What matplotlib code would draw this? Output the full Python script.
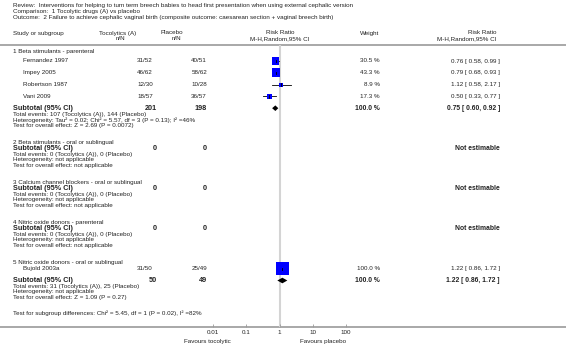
import matplotlib
matplotlib.use('Agg')
import matplotlib.pyplot as plt

plt.rcParams['font.family'] = ['Liberation Sans', 'DejaVu Sans']

#-------------------------------------
# Datos
titulo = ['Review:  Interventions for helping to turn term breech babies to head first presentation when using external cephalic version',
          'Comparison:  1 Tocolytic drugs (A) vs placebo',
          'Outcome:  2 Failure to achieve cephalic vaginal birth (composite outcome: caesarean section + vaginal breech birth)']

secciones = ['1 Beta stimulants - parenteral',
             '2 Beta stimulants - oral or sublingual',
             '3 Calcium channel blockers - oral or sublingual',
             '4 Nitric oxide donors - parenteral',
             '5 Nitric oxide donors - oral or sublingual']

estudios = ['Fernandez 1997', 'Impey 2005', 'Robertson 1987', 'Vani 2009', 'Bujold 2003a']
seccion_estudio = [0, 0, 0, 0, 4]
toc_ev = [31, 46, 12, 18, 31]
toc_n = [52, 62, 30, 57, 50]
plc_ev = [40, 58, 10, 36, 25]
plc_n = [51, 62, 28, 57, 49]
peso = [30.5, 43.3, 8.9, 17.3, 100.0]
rr = [0.76, 0.79, 1.12, 0.50, 1.22]
rr_lo = [0.58, 0.68, 0.58, 0.33, 0.86]
rr_hi = [0.99, 0.93, 2.17, 0.77, 1.72]

sub_toc = [201, 0, 0, 0, 50]
sub_plc = [198, 0, 0, 0, 49]
sub_rr = [0.75, None, None, None, 1.22]
sub_lo = [0.60, None, None, None, 0.86]
sub_hi = [0.92, None, None, None, 1.72]
ev_toc = [107, 0, 0, 0, 31]
ev_plc = [144, 0, 0, 0, 25]
heterog = ['Heterogeneity: Tau\u00b2 = 0.02; Chi\u00b2 = 5.57, df = 3 (P = 0.13); I\u00b2 =46%',
           'Heterogeneity: not applicable',
           'Heterogeneity: not applicable',
           'Heterogeneity: not applicable',
           'Heterogeneity: not applicable']
efecto = ['Test for overall effect: Z = 2.69 (P = 0.0072)',
          'Test for overall effect: not applicable',
          'Test for overall effect: not applicable',
          'Test for overall effect: not applicable',
          'Test for overall effect: Z = 1.09 (P = 0.27)']
subgrupos = 'Test for subgroup differences: Chi\u00b2 = 5.45, df = 1 (P = 0.02), I\u00b2 =82%'

ticks = [0.01, 0.1, 1, 10, 100]
tick_lbl = ['0.01', '0.1', '1', '10', '100']
#-------------------------------------

W, H = 566, 353
fig = plt.figure(figsize=(W/100, H/100), dpi=100)
ax = fig.add_axes([0, 0, 1, 1])
ax.set_xlim(0, W)
ax.set_ylim(H, 0)
ax.axis('off')

fs = 4.5
fsb = 5.2
col = '#222222'

def txt(x, y, s, ha='left', bold=False, size=None):
    ax.text(x, y, s, ha=ha, va='center', color=col,
            fontsize=size if size else (fsb if bold else fs),
            fontweight='bold' if bold else 'normal')

# titulo
for i, t in enumerate(titulo):
    txt(13, 5.5 + 5.8*i, t)

# cabecera
y_h1, y_h2 = 33, 38.5
txt(13, y_h1, 'Study or subgroup')
txt(136, y_h1, 'Tocolytics (A)', ha='right')
txt(125, y_h2, 'n/N', ha='right')
txt(183, y_h1, 'Placebo', ha='right')
txt(181, y_h2, 'n/N', ha='right')
txt(280, y_h1, 'Risk Ratio', ha='center')
txt(280, y_h2, 'M-H,Random,95% CI', ha='center')
txt(370, y_h1, 'Weight', ha='center')
txt(496, y_h1, 'Risk Ratio', ha='right')
txt(496, y_h2, 'M-H,Random,95% CI', ha='right')
ax.plot([0, W], [44.5, 44.5], color='#9a9a9a', lw=1.2)
ax.plot([0, W], [327, 327], color='#9a9a9a', lw=1.2)

# panel del forest plot con escala log
fx = fig.add_axes([213/W, (H-327)/H, 133/W, (327-44.5)/H])
fx.set_xscale('log')
fx.set_xlim(0.01, 100)
fx.set_ylim(327, 44.5)
fx.patch.set_visible(False)
for s in fx.spines.values():
    s.set_visible(False)
fx.set_yticks([])
fx.set_xticks(ticks)
fx.set_xticklabels(tick_lbl)
fx.minorticks_off()
fx.tick_params(axis='x', direction='in', length=2, width=0.6, color='#9a9a9a',
               labelsize=fs, pad=2, labelcolor=col)
fx.axvline(1, color='#d4d4d4', lw=1.5, zorder=0)

txt(231, 342, 'Favours tocolytic', ha='right')
txt(300, 342, 'Favours placebo')

# filas
y = 51
for k, sec in enumerate(secciones):
    txt(13, y, sec)
    idx = [i for i in range(len(estudios)) if seccion_estudio[i] == k]
    yy = y + (10 if k == 0 else 6)
    for i in idx:
        txt(23, yy, estudios[i])
        txt(153, yy, '%d/%d' % (toc_ev[i], toc_n[i]), ha='right')
        txt(207, yy, '%d/%d' % (plc_ev[i], plc_n[i]), ha='right')
        txt(380, yy, '%.1f %%' % peso[i], ha='right')
        txt(500, yy, '%.2f [ %.2f, %.2f ]' % (rr[i], rr_lo[i], rr_hi[i]), ha='right')
        fx.plot([rr_lo[i], rr_hi[i]], [yy, yy], color='black', lw=0.6, zorder=2)
        fx.scatter([rr[i]], [yy], marker='s', s=92*peso[i]/100, color='#0000ff',
                   edgecolors='none', zorder=3)
        fx.plot([rr[i], rr[i]], [yy-1.2, yy+1.2], color='black', lw=0.6, zorder=4)
        yy += 11.8
    if idx:
        ys = yy
    else:
        ys = y + 5.5
    txt(13, ys, 'Subtotal (95% CI)', bold=True)
    txt(157, ys, str(sub_toc[k]), ha='right', bold=True)
    txt(207, ys, str(sub_plc[k]), ha='right', bold=True)
    if sub_rr[k] is not None:
        txt(380, ys, '100.0 %', ha='right', bold=True, size=4.9)
        txt(500, ys, '%.2f [ %.2f, %.2f ]' % (sub_rr[k], sub_lo[k], sub_hi[k]),
            ha='right', bold=True, size=4.9)
        fx.fill([sub_lo[k], sub_rr[k], sub_hi[k], sub_rr[k]],
                [ys, ys-2.8, ys, ys+2.8], color='black', lw=0, zorder=3)
    else:
        txt(500, ys, 'Not estimable', ha='right', bold=True, size=4.9)
    txt(13, ys + 6, 'Total events: %d (Tocolytics (A)), %d (Placebo)' % (ev_toc[k], ev_plc[k]))
    txt(13, ys + 11.5, heterog[k])
    txt(13, ys + 17, efecto[k])
    y = ys + 17 + 17.5

txt(13, 313, subgrupos)

fig.savefig('out.png', dpi=100)
